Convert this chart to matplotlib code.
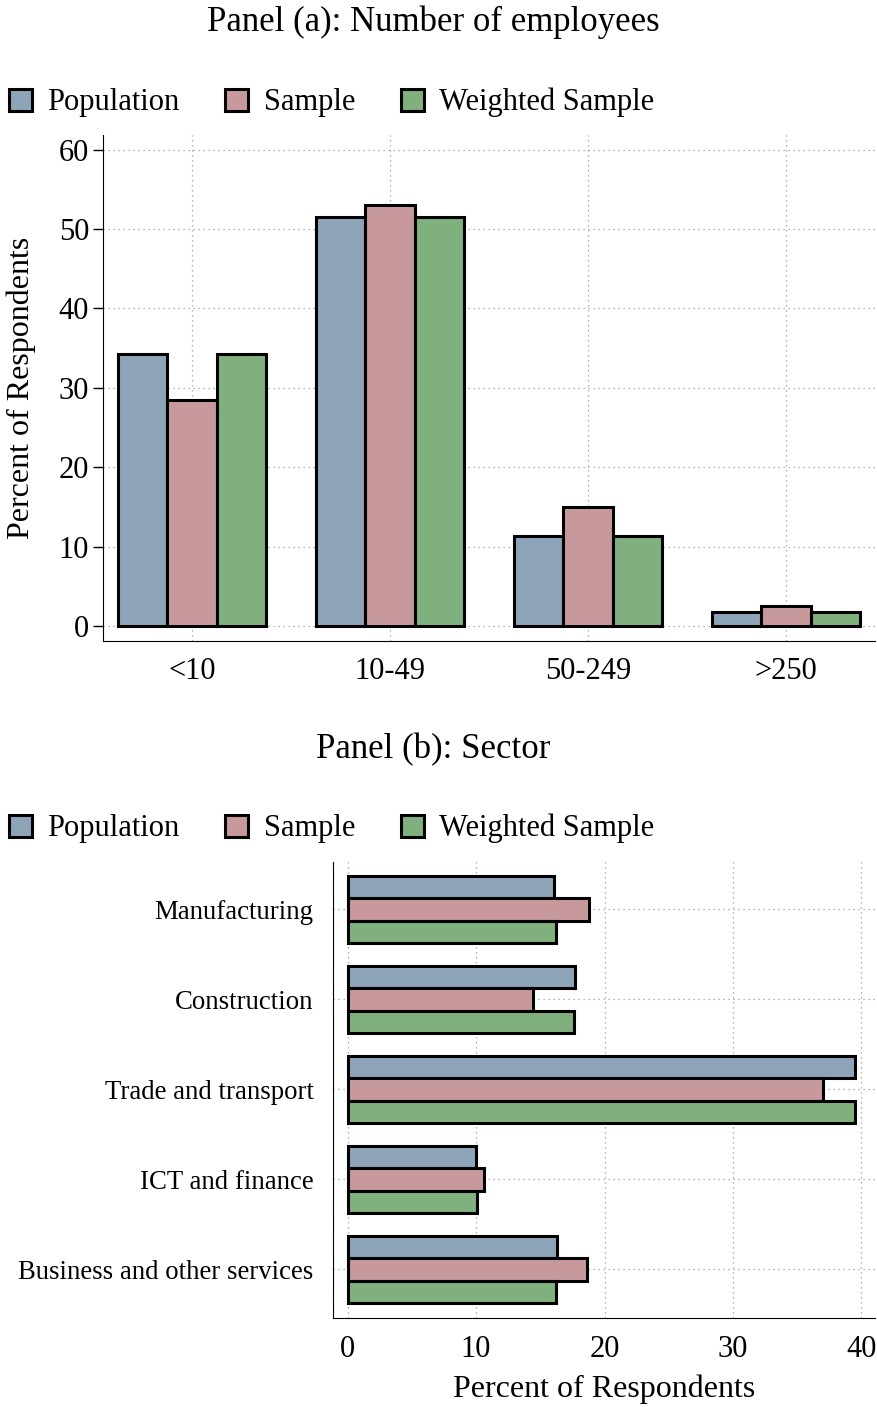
import matplotlib.pyplot as plt
import numpy as np

plt.rcParams['font.family'] = ['Liberation Serif', 'DejaVu Serif']

size_labels = ["<10", "10-49", "50-249", ">250"]
size_pop = [34.3, 51.5, 11.3, 1.8]
size_sample = [28.5, 53.0, 15.0, 2.5]
size_weighted = [34.3, 51.5, 11.3, 1.8]

sector_labels = ["Manufacturing", "Construction", "Trade and transport",
                 "ICT and finance", "Business and other services"]
sector_pop = [16.1, 17.7, 39.5, 10.0, 16.3]
sector_sample = [18.8, 14.4, 37.0, 10.6, 18.6]
sector_weighted = [16.2, 17.6, 39.5, 10.1, 16.2]

series_names = ["Population", "Sample", "Weighted Sample"]
colors = ["#8DA4B9", "#C8999C", "#7FB07E"]

fig = plt.figure(figsize=(8.77, 14.07), dpi=100)
fs = 22
w = 0.25
grid_kw = dict(linestyle=(0, (1, 3)), color="#999999", linewidth=0.9, zorder=0)
leg_kw = dict(loc="center left", ncol=3, frameon=False, fontsize=fs, handlelength=0.75,
              handleheight=0.75, handletextpad=0.5, columnspacing=1.5)

# Panel (a)
ax1 = fig.add_axes([0.1174, 0.5446, 0.8803, 0.3595])
x = np.arange(len(size_labels))
for i, (vals, c, name) in enumerate(zip([size_pop, size_sample, size_weighted], colors, series_names)):
    ax1.bar(x + (i - 1) * w, vals, w, color=c, edgecolor="black", linewidth=2.2, label=name, zorder=3)
ax1.set_xlim(-0.45, 3.45)
ax1.set_ylim(-1.85, 61.85)
ax1.set_yticks([0, 10, 20, 30, 40, 50, 60])
ax1.set_xticks(x)
ax1.set_xticklabels(size_labels)
ax1.tick_params(axis="x", length=0, labelsize=fs, pad=12)
ax1.tick_params(axis="y", length=7, width=1, labelsize=fs, pad=3)
ax1.grid(True, **grid_kw)
for s in ["top", "right"]:
    ax1.spines[s].set_visible(False)
ax1.set_ylabel("Percent of Respondents", fontsize=fs + 1, labelpad=16)
fig.text(0.494, 0.984, "Panel (a): Number of employees", ha="center", va="center", fontsize=25)
fig.legend(*ax1.get_legend_handles_labels(), bbox_to_anchor=(-0.021, 0.927), **leg_kw)

# Panel (b)
ax2 = fig.add_axes([0.3797, 0.0633, 0.618, 0.3243])
y = np.arange(len(sector_labels))
for i, (vals, c, name) in enumerate(zip([sector_pop, sector_sample, sector_weighted], colors, series_names)):
    ax2.barh(y + (i - 1) * w, vals, w, color=c, edgecolor="black", linewidth=2.2, label=name, zorder=3)
ax2.set_ylim(4.54, -0.53)
ax2.set_xlim(-1.13, 41.05)
ax2.set_yticks(y)
ax2.set_yticklabels(sector_labels)
ax2.set_xticks([0, 10, 20, 30, 40])
ax2.tick_params(axis="x", length=0, labelsize=fs, pad=12)
ax2.tick_params(axis="y", length=0, labelsize=19.3, pad=14)
ax2.grid(True, **grid_kw)
for s in ["top", "right"]:
    ax2.spines[s].set_visible(False)
ax2.set_xlabel("Percent of Respondents", fontsize=fs + 1, labelpad=8)
fig.text(0.494, 0.467, "Panel (b): Sector", ha="center", va="center", fontsize=25)
fig.legend(*ax2.get_legend_handles_labels(), bbox_to_anchor=(-0.021, 0.411), **leg_kw)

fig.savefig("out.png", dpi=100)
